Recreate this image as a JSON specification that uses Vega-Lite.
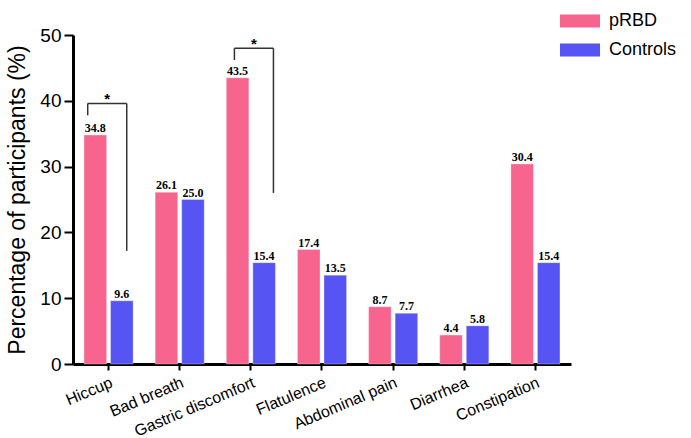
{
  "$schema": "https://vega.github.io/schema/vega-lite/v6.json",
  "autosize": "none",
  "width": 498,
  "height": 329,
  "padding": {"left": 73, "top": 35, "right": 120, "bottom": 74},
  "background": "white",
  "datasets": {
    "bars": [
      {"symptom": "Hiccup", "group": "pRBD", "value": 34.8},
      {"symptom": "Hiccup", "group": "Controls", "value": 9.6},
      {"symptom": "Bad breath", "group": "pRBD", "value": 26.1},
      {"symptom": "Bad breath", "group": "Controls", "value": 25.0},
      {"symptom": "Gastric discomfort", "group": "pRBD", "value": 43.5},
      {"symptom": "Gastric discomfort", "group": "Controls", "value": 15.4},
      {"symptom": "Flatulence", "group": "pRBD", "value": 17.4},
      {"symptom": "Flatulence", "group": "Controls", "value": 13.5},
      {"symptom": "Abdominal pain", "group": "pRBD", "value": 8.7},
      {"symptom": "Abdominal pain", "group": "Controls", "value": 7.7},
      {"symptom": "Diarrhea", "group": "pRBD", "value": 4.4},
      {"symptom": "Diarrhea", "group": "Controls", "value": 5.8},
      {"symptom": "Constipation", "group": "pRBD", "value": 30.4},
      {"symptom": "Constipation", "group": "Controls", "value": 15.4}
    ],
    "brackets": [
      {"symptom": "Hiccup", "top": 39.6, "left": 37.8, "right": 17.2, "star": "*"},
      {"symptom": "Gastric discomfort", "top": 48.0, "left": 46.2, "right": 26.0, "star": "*"}
    ]
  },
  "config": {
    "view": {"stroke": null},
    "font": "Liberation Sans"
  },
  "layer": [
    {
      "data": {"name": "bars"},
      "mark": {"type": "bar", "stroke": "white", "strokeOpacity": 0.3, "strokeWidth": 1},
      "encoding": {
        "x": {
          "field": "symptom", "type": "nominal", "title": null,
          "sort": ["Hiccup", "Bad breath", "Gastric discomfort", "Flatulence", "Abdominal pain", "Diarrhea", "Constipation"],
          "scale": {"paddingInner": 0.31, "paddingOuter": 0.155},
          "axis": {
            "domainColor": "black", "domainWidth": 3, "tickColor": "black", "tickWidth": 2, "tickSize": 6,
            "labelAngle": -23, "labelAlign": "right", "labelBaseline": "top", "labelFontSize": 16,
            "labelColor": "black", "labelPadding": 4, "labelFont": "Liberation Sans"
          }
        },
        "xOffset": {"field": "group", "type": "nominal", "sort": ["pRBD", "Controls"], "scale": {"paddingInner": 0.15}},
        "y": {
          "field": "value", "type": "quantitative", "title": "Percentage of participants (%)",
          "scale": {"domain": [0, 50]},
          "axis": {
            "values": [0, 10, 20, 30, 40, 50], "grid": false,
            "domainColor": "black", "domainWidth": 3, "tickColor": "black", "tickWidth": 2, "tickSize": 9,
            "labelFontSize": 19, "labelColor": "black", "labelPadding": 3,
            "titleFontSize": 23, "titleFontWeight": "normal", "titleColor": "black", "titlePadding": 10,
            "titleFont": "Liberation Sans"
          }
        },
        "color": {
          "field": "group", "type": "nominal", "title": null,
          "scale": {"domain": ["pRBD", "Controls"], "range": ["#F7658F", "#5655F3"]},
          "legend": {
            "orient": "none", "legendX": 487, "legendY": -34,
            "symbolType": "M-1,-0.33H1V0.33H-1Z", "symbolSize": 1600, "symbolStrokeWidth": 0,
            "labelFontSize": 18, "labelColor": "black", "labelOffset": 9, "rowPadding": -12
          }
        }
      }
    },
    {
      "data": {"name": "bars"},
      "mark": {"type": "text", "dy": -7, "font": "Liberation Serif", "fontWeight": "bold", "fontSize": 12, "color": "black"},
      "encoding": {
        "x": {"field": "symptom", "type": "nominal", "title": null, "sort": ["Hiccup", "Bad breath", "Gastric discomfort", "Flatulence", "Abdominal pain", "Diarrhea", "Constipation"]},
        "xOffset": {"field": "group", "type": "nominal", "sort": ["pRBD", "Controls"]},
        "y": {"field": "value", "type": "quantitative", "title": "Percentage of participants (%)"},
        "text": {"field": "value", "type": "quantitative", "format": ".1f"}
      }
    },
    {
      "data": {"name": "brackets"},
      "transform": [{"filter": "datum.symptom == 'Hiccup'"}],
      "layer": [
        {
          "mark": {"type": "rule", "color": "#333", "strokeWidth": 1.5},
          "encoding": {
            "x": {"field": "symptom", "type": "nominal", "title": null, "bandPosition": 0.075, "sort": ["Hiccup", "Bad breath", "Gastric discomfort", "Flatulence", "Abdominal pain", "Diarrhea", "Constipation"]},
            "x2": {"field": "symptom", "bandPosition": 0.87},
            "y": {"field": "top", "type": "quantitative", "title": "Percentage of participants (%)"}
          }
        },
        {
          "mark": {"type": "rule", "color": "#333", "strokeWidth": 1.5},
          "encoding": {
            "x": {"field": "symptom", "type": "nominal", "title": null, "bandPosition": 0.075, "sort": ["Hiccup", "Bad breath", "Gastric discomfort", "Flatulence", "Abdominal pain", "Diarrhea", "Constipation"]},
            "y": {"field": "top", "type": "quantitative", "title": "Percentage of participants (%)"},
            "y2": {"field": "left"}
          }
        },
        {
          "mark": {"type": "rule", "color": "#333", "strokeWidth": 1.5},
          "encoding": {
            "x": {"field": "symptom", "type": "nominal", "title": null, "bandPosition": 0.87, "sort": ["Hiccup", "Bad breath", "Gastric discomfort", "Flatulence", "Abdominal pain", "Diarrhea", "Constipation"]},
            "y": {"field": "top", "type": "quantitative", "title": "Percentage of participants (%)"},
            "y2": {"field": "right"}
          }
        },
        {
          "mark": {"type": "text", "dy": -4, "fontSize": 15, "fontWeight": "bold", "color": "black"},
          "encoding": {
            "x": {"field": "symptom", "type": "nominal", "title": null, "bandPosition": 0.47, "sort": ["Hiccup", "Bad breath", "Gastric discomfort", "Flatulence", "Abdominal pain", "Diarrhea", "Constipation"]},
            "y": {"field": "top", "type": "quantitative", "title": "Percentage of participants (%)"},
            "text": {"field": "star"}
          }
        }
      ]
    },
    {
      "data": {"name": "brackets"},
      "transform": [{"filter": "datum.symptom == 'Gastric discomfort'"}],
      "layer": [
        {
          "mark": {"type": "rule", "color": "#333", "strokeWidth": 1.5},
          "encoding": {
            "x": {"field": "symptom", "type": "nominal", "title": null, "bandPosition": 0.165, "sort": ["Hiccup", "Bad breath", "Gastric discomfort", "Flatulence", "Abdominal pain", "Diarrhea", "Constipation"]},
            "x2": {"field": "symptom", "bandPosition": 0.96},
            "y": {"field": "top", "type": "quantitative", "title": "Percentage of participants (%)"}
          }
        },
        {
          "mark": {"type": "rule", "color": "#333", "strokeWidth": 1.5},
          "encoding": {
            "x": {"field": "symptom", "type": "nominal", "title": null, "bandPosition": 0.165, "sort": ["Hiccup", "Bad breath", "Gastric discomfort", "Flatulence", "Abdominal pain", "Diarrhea", "Constipation"]},
            "y": {"field": "top", "type": "quantitative", "title": "Percentage of participants (%)"},
            "y2": {"field": "left"}
          }
        },
        {
          "mark": {"type": "rule", "color": "#333", "strokeWidth": 1.5},
          "encoding": {
            "x": {"field": "symptom", "type": "nominal", "title": null, "bandPosition": 0.96, "sort": ["Hiccup", "Bad breath", "Gastric discomfort", "Flatulence", "Abdominal pain", "Diarrhea", "Constipation"]},
            "y": {"field": "top", "type": "quantitative", "title": "Percentage of participants (%)"},
            "y2": {"field": "right"}
          }
        },
        {
          "mark": {"type": "text", "dy": -4, "fontSize": 15, "fontWeight": "bold", "color": "black"},
          "encoding": {
            "x": {"field": "symptom", "type": "nominal", "title": null, "bandPosition": 0.56, "sort": ["Hiccup", "Bad breath", "Gastric discomfort", "Flatulence", "Abdominal pain", "Diarrhea", "Constipation"]},
            "y": {"field": "top", "type": "quantitative", "title": "Percentage of participants (%)"},
            "text": {"field": "star"}
          }
        }
      ]
    }
  ]
}
